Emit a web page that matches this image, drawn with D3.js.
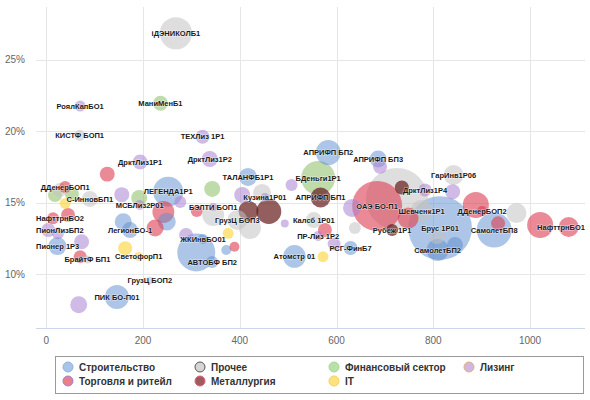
<!DOCTYPE html>
<html><head><meta charset="utf-8">
<script src="https://cdn.jsdelivr.net/npm/d3@7"></script>
<style>
body{margin:0;background:#fff;}
svg{display:block;font-family:"Liberation Sans",Arial,sans-serif;}
</style></head>
<body><svg id="c" width="590" height="400"></svg>
<script>
// Sectors (legend order)
const sectors = ["Строительство","Прочее","Финансовый сектор","Лизинг","Торговля и ритейл","Металлургия","IT"];
const sectorFill = ["rgba(92,140,205,0.5)","rgba(195,195,195,0.55)","rgba(140,190,100,0.55)","rgba(170,130,210,0.55)","rgba(220,60,80,0.6)","rgba(100,25,25,0.7)","rgba(255,210,50,0.6)"];
const legendFill = ["#a9c4e8","#d6d6d6","#b8e0a8","#cdb8e0","#e8808c","#a05a5e","#fde27e"];
const legendStroke = ["#8fb2e0","#555555","#a9d89a","#f0a97c","#9c7fd6","#e0607a","#f2d262"];

// Bonds: name, sector index, x (days), yield %, volume
const bondNames = ["iДЭНИКОЛБ1","МаниМенБ1","РоялКапБО1","КИСТФ БОП1","ТЕХЛиз 1Р1","ДрктЛиз1Р2","ДрктЛиз1Р1","","ТАЛАНФБ1Р1","АПРИФП БП2",
"АПРИФП БП3","","БДеньги1Р1","","АПРИФП БП1","","ОАЭ БО-П1","","ДрктЛиз1Р4","",
"ГарИнв1Р06","","Шевченк1Р1","","Рубеж 1Р1","Брус 1Р01","СамолетБП2","","","ДДенерБОП2",
"","СамолетБП8","","","НафттрнБО1","Калсб 1Р01","","ПР-Лиз 1Р2","РСГ-ФинБ7","",
"","","Атомстр 01","","Кузина1Р01","","","","","",
"ГрузЦ БОП3","","","БЭЛТИ БОП1","","","ЖКИнвБО01","","","АВТОБФ БП2",
"","","ЛЕГЕНДА1Р1","","","","","","МСБЛиз2Р01","",
"ЛегионБО-1","","","СветофорП1","ГрузЦ БОП2","ПИК БО-П01","","Пионер 1Р3","","",
"БрайтФ БП1","ПионЛизБП2","","НафттрнБО2","","ДДенерБОП1","","","","С-ИнновБП1",
"",""];
const bondSector = [1,2,3,1,3,3,3,4,0,0,
0,3,2,3,5,1,4,3,3,5,
1,3,1,4,5,0,0,0,4,4,
1,0,4,4,4,1,4,3,0,3,
3,1,0,6,3,5,5,1,3,2,
1,1,1,3,4,3,0,6,0,0,
0,4,0,3,4,0,3,2,3,0,
0,4,6,6,1,0,3,0,3,4,
1,3,3,4,4,4,2,2,1,1,
6,1];
const bondDays = [268,236,70,69,323,338,194,126,417,583,
686,690,562,507,567,725,684,632,783,735,
842,840,776,748,715,814,809,845,888,901,
972,926,934,1021,1080,553,576,562,629,595,
493,638,513,572,452,418,460,446,405,343,
395,421,345,345,311,289,324,376,310,343,
372,389,252,277,242,249,156,192,193,159,
173,225,163,191,214,146,67,23,73,70,
85,4,24,14,45,39,18,53,28,90,
39,808];
const bondYield = [26.87,21.96,21.77,19.72,19.62,18.06,17.85,17.0,16.8,18.51,
18.06,17.52,16.73,16.24,15.36,15.26,14.77,14.63,15.89,16.06,
16.94,15.77,14.42,13.92,13.08,13.22,11.68,12.03,14.84,14.42,
14.27,13.08,13.55,13.43,13.29,13.78,13.08,12.66,11.82,12.1,
13.54,13.22,11.23,11.21,15.4,14.42,14.38,15.68,15.54,15.96,
13.78,13.22,14.13,14.7,14.42,12.73,12.45,12.85,11.51,10.84,
11.68,11.91,15.77,15.05,14.34,13.67,15.56,15.33,14.84,13.67,
13.08,13.22,11.8,11.23,9.54,8.39,7.85,11.96,12.26,11.21,
11.02,13.08,12.85,13.9,14.13,16.1,15.54,15.61,15.89,15.26,
14.95,12.66];
const bondVolume = [26,5.6,3,3,4.9,6.4,5.6,5.6,8.1,15.6,
7.2,4.9,28.9,3.6,10,96,62.5,8.1,4.2,4.9,
10,5.6,12,11,3.6,102,12,6.4,17,2.5,
10,30.6,4.9,17,10,6.4,4.9,2.5,4.9,4.2,
1.6,3.6,13,3,1.6,10,15.6,8.1,6.4,6.4,
10,12,12,1.6,3.6,4.9,2.5,3,36,3.6,
2.5,2.5,22.5,3.6,12,8.1,5.6,6.4,2.5,7.2,
6.4,7.2,4.9,2,1.6,14.4,7.2,8.1,5.6,4.2,
1.6,4.9,3.6,3.6,4.9,3.6,4.9,4.9,4.9,6.4,
3,6.4];

const xTicks = [0,200,400,600,800,1000];
const yTicks = [10,15,20,25];

const svg = d3.select("#c");
const plotLeft = 36, plotRight = 585;
const x = d3.scaleLinear().domain([-21.3,1113.7]).range([plotLeft,plotRight]);
const y = d3.scaleLinear().domain([6.216,28.71]).range([328,7]);
const r = d3.scaleSqrt().domain([0,100]).range([0,31.6]);

// grid
const g = svg.append("g");
g.selectAll("line.h").data(yTicks).join("line")
  .attr("x1",plotLeft).attr("x2",plotRight)
  .attr("y1",d=>Math.round(y(d))+0.5).attr("y2",d=>Math.round(y(d))+0.5)
  .attr("stroke","#e6e6e6");
g.selectAll("line.v").data(xTicks).join("line")
  .attr("y1",7).attr("y2",328)
  .attr("x1",d=>Math.round(x(d))+0.5).attr("x2",d=>Math.round(x(d))+0.5)
  .attr("stroke","#e6e6e6");
g.append("line").attr("x1",plotLeft).attr("x2",plotRight).attr("y1",328.5).attr("y2",328.5).attr("stroke","#ccd6eb");

g.selectAll("text.yt").data(yTicks).join("text")
  .attr("x",25).attr("y",d=>y(d)+3.5).attr("text-anchor","end")
  .attr("font-size",10).attr("fill","#666").text(d=>d+"%");
g.selectAll("text.xt").data(xTicks).join("text")
  .attr("x",d=>x(d)).attr("y",344).attr("text-anchor","middle")
  .attr("font-size",10).attr("fill","#666").text(d=>d);

// bubbles
const data = bondNames.map((n,i)=>({name:n,s:bondSector[i],x:bondDays[i],y:bondYield[i],v:bondVolume[i]}));
const sorted = data.slice().sort((a,b)=>b.v-a.v);
svg.append("g").selectAll("circle").data(sorted).join("circle")
  .attr("cx",d=>x(d.x)).attr("cy",d=>y(d.y)).attr("r",d=>r(d.v))
  .attr("fill",d=>sectorFill[d.s]);

// data labels, centered on bubbles and kept inside the plot area
svg.append("g").selectAll("text").data(data.filter(d=>d.name)).join("text")
  .attr("y",d=>y(d.y)+2.7).attr("text-anchor","start")
  .attr("font-size",7.5).attr("font-weight","bold").attr("fill","#1a1a1a")
  .attr("stroke","rgba(255,255,255,0.6)").attr("stroke-width",1).attr("paint-order","stroke")
  .text(d=>d.name)
  .attr("x",function(d){
    const w = this.getComputedTextLength();
    let left = x(d.x) - w/2;
    left = Math.max(plotLeft, Math.min(plotRight - w, left));
    return left;
  });

// legend
const lg = svg.append("g");
lg.append("rect").attr("x",55.5).attr("y",356.5).attr("width",528).attr("height",37)
  .attr("fill","#fff").attr("stroke","#999");
const colX = [68,200,334,469];
const rowY = [367,381];
const items = lg.selectAll("g").data(sectors).join("g")
  .attr("transform",(d,i)=>`translate(${colX[i<4?i:i-4]},${rowY[i<4?0:1]})`);
items.append("circle").attr("r",5).attr("fill",(d,i)=>legendFill[i]).attr("stroke",(d,i)=>legendStroke[i]).attr("stroke-width",1);
items.append("text").attr("x",11).attr("y",3.6).attr("font-size",10).attr("font-weight","bold").attr("fill","#333").text(d=>d);
</script></body></html>
